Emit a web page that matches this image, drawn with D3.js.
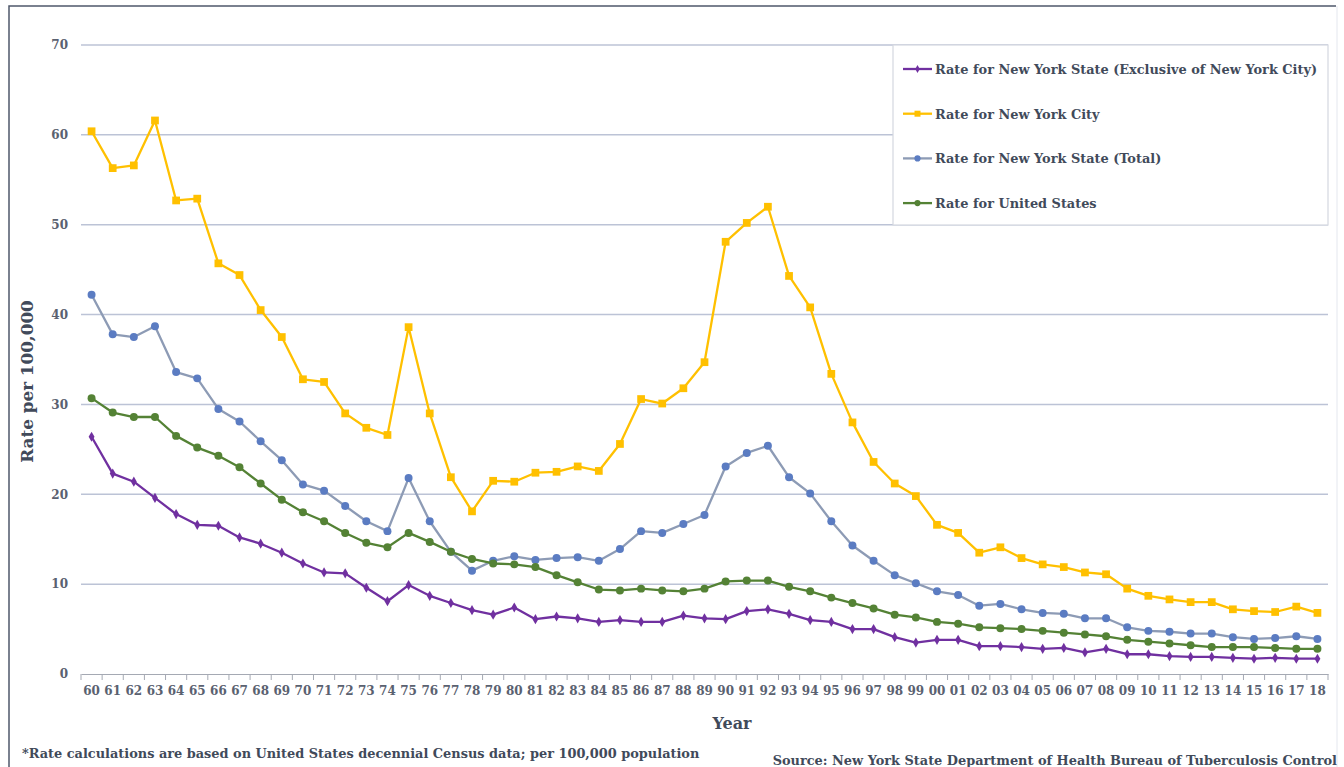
<!DOCTYPE html>
<html>
<head>
<meta charset="utf-8">
<script src="https://cdn.jsdelivr.net/npm/d3@7"></script>
<style>
  body { margin: 0; background: #fff; }
  svg { display: block; font-family: "DejaVu Serif", "Liberation Serif", serif; font-weight: bold; }
</style>
</head>
<body>
<svg id="chart" width="1344" height="767"></svg>
<script>
// years shown on the x axis (two digits, 1960 - 2018)
let years = ["60","61","62","63","64","65","66","67","68","69","70","71","72","73","74","75","76","77","78","79",
  "80","81","82","83","84","85","86","87","88","89","90","91","92","93","94","95","96","97","98","99",
  "00","01","02","03","04","05","06","07","08","09","10","11","12","13","14","15","16","17","18"];

let nysExclNyc = [26.4,22.3,21.4,19.6,17.8,16.6,16.5,15.2,14.5,13.5,12.3,11.3,11.2,9.6,8.1,9.9,8.7,7.9,7.1,6.6,
  7.4,6.1,6.4,6.2,5.8,6.0,5.8,5.8,6.5,6.2,6.1,7.0,7.2,6.7,6.0,5.8,5.0,5.0,4.1,3.5,
  3.8,3.8,3.1,3.1,3.0,2.8,2.9,2.4,2.8,2.2,2.2,2.0,1.9,1.9,1.8,1.7,1.8,1.7,1.7];

let nyc = [60.4,56.3,56.6,61.6,52.7,52.9,45.7,44.4,40.5,37.5,32.8,32.5,29.0,27.4,26.6,38.6,29.0,21.9,18.1,21.5,
  21.4,22.4,22.5,23.1,22.6,25.6,30.6,30.1,31.8,34.7,48.1,50.2,52.0,44.3,40.8,33.4,28.0,23.6,21.2,19.8,
  16.6,15.7,13.5,14.1,12.9,12.2,11.9,11.3,11.1,9.5,8.7,8.3,8.0,8.0,7.2,7.0,6.9,7.5,6.8];

let nysTotal = [42.2,37.8,37.5,38.7,33.6,32.9,29.5,28.1,25.9,23.8,21.1,20.4,18.7,17.0,15.9,21.8,17.0,13.6,11.5,12.6,
  13.1,12.7,12.9,13.0,12.6,13.9,15.9,15.7,16.7,17.7,23.1,24.6,25.4,21.9,20.1,17.0,14.3,12.6,11.0,10.1,
  9.2,8.8,7.6,7.8,7.2,6.8,6.7,6.2,6.2,5.2,4.8,4.7,4.5,4.5,4.1,3.9,4.0,4.2,3.9];

let unitedStates = [30.7,29.1,28.6,28.6,26.5,25.2,24.3,23.0,21.2,19.4,18.0,17.0,15.7,14.6,14.1,15.7,14.7,13.6,12.8,12.3,
  12.2,11.9,11.0,10.2,9.4,9.3,9.5,9.3,9.2,9.5,10.3,10.4,10.4,9.7,9.2,8.5,7.9,7.3,6.6,6.3,
  5.8,5.6,5.2,5.1,5.0,4.8,4.6,4.4,4.2,3.8,3.6,3.4,3.2,3.0,3.0,3.0,2.9,2.8,2.8];

let yTicks = [0, 10, 20, 30, 40, 50, 60, 70];

let seriesNames = [
  "Rate for New York State (Exclusive of New York City)",
  "Rate for New York City",
  "Rate for New York State (Total)",
  "Rate for United States"
];

let series = [
  { name: seriesNames[0], values: nysExclNyc, line: "#7030a0", fill: "#7030a0", shape: d3.symbolDiamond, size: 30 },
  { name: seriesNames[1], values: nyc, line: "#ffc000", fill: "#ffc000", shape: d3.symbolSquare, size: 60 },
  { name: seriesNames[2], values: nysTotal, line: "#8d9bb5", fill: "#5b7cc2", shape: d3.symbolCircle, size: 50 },
  { name: seriesNames[3], values: unitedStates, line: "#548235", fill: "#548235", shape: d3.symbolCircle, size: 50 }
];

let textColor = "#414a5a";
let svg = d3.select("#chart");

let plotLeft = 81, plotRight = 1328, plotTop = 45, plotBottom = 674;

let x = d3.scaleBand().domain(years).range([plotLeft, plotRight]);
let y = d3.scaleLinear().domain([0, 70]).range([plotBottom, plotTop]);

// outer frame
svg.append("path")
  .attr("d", `M9,767 L9,6 L1336,6`)
  .attr("fill", "none")
  .attr("stroke", "#4f586b")
  .attr("stroke-width", 1.5);
svg.append("line")
  .attr("x1", 1337).attr("y1", 6).attr("x2", 1337).attr("y2", 767)
  .attr("stroke", "#e4e7ee").attr("stroke-width", 1);

// gridlines
svg.append("g")
  .selectAll("line")
  .data(yTicks.filter(d => d > 0))
  .enter()
  .append("line")
  .attr("x1", plotLeft)
  .attr("x2", plotRight)
  .attr("y1", d => y(d))
  .attr("y2", d => y(d))
  .attr("stroke", "#bcc3d6")
  .attr("stroke-width", 1.5);

// y axis labels
let yAxis = svg.append("g")
  .attr("transform", `translate(${plotLeft},0)`)
  .call(d3.axisLeft(y).tickValues(yTicks).tickSize(0).tickPadding(13));
yAxis.select(".domain").remove();
yAxis.selectAll("text")
  .attr("font-family", "DejaVu Serif")
  .attr("font-size", 12)
  .attr("fill", "#5a6170");

// x axis with ticks between categories
let xAxis = svg.append("g")
  .attr("transform", `translate(0,${plotBottom})`)
  .call(d3.axisBottom(x).tickSize(0).tickPadding(12));
xAxis.select(".domain").attr("stroke", "#a5a9b3").attr("stroke-width", 1.2);
xAxis.selectAll("text")
  .attr("font-family", "DejaVu Serif")
  .attr("font-size", 12)
  .attr("fill", "#5a6170");
xAxis.append("g")
  .selectAll("line")
  .data(years.map(d => x(d)).concat([plotRight]))
  .enter()
  .append("line")
  .attr("x1", d => d)
  .attr("x2", d => d)
  .attr("y1", 0)
  .attr("y2", 6)
  .attr("stroke", "#a5a9b3");

// axis titles
svg.append("text")
  .attr("x", 732)
  .attr("y", 729)
  .attr("text-anchor", "middle")
  .attr("font-size", 16)
  .attr("fill", textColor)
  .text("Year");

svg.append("text")
  .attr("transform", `translate(33,${(plotTop + plotBottom) / 2 + 22}) rotate(-90)`)
  .attr("text-anchor", "middle")
  .attr("font-size", 16.8)
  .attr("fill", textColor)
  .text("Rate per 100,000");

// lines and markers
let line = d3.line()
  .x((d, i) => x(years[i]) + x.bandwidth() / 2)
  .y(d => y(d));

for (const s of series) {
  let g = svg.append("g");
  g.append("path")
    .attr("d", line(s.values))
    .attr("fill", "none")
    .attr("stroke", s.line)
    .attr("stroke-width", 2.3)
    .attr("stroke-linejoin", "round");
  g.selectAll("path.marker")
    .data(s.values)
    .enter()
    .append("path")
    .attr("class", "marker")
    .attr("d", d3.symbol().type(s.shape).size(s.size))
    .attr("transform", (d, i) => `translate(${x(years[i]) + x.bandwidth() / 2},${y(d)})`)
    .attr("fill", s.fill);
}

// legend
let legend = svg.append("g");
legend.append("rect")
  .attr("x", 893)
  .attr("y", 45)
  .attr("width", 435)
  .attr("height", 180)
  .attr("fill", "#fff")
  .attr("stroke", "#d4d8e0")
  .attr("stroke-width", 1.2);

let items = legend.selectAll("g.item")
  .data(series)
  .enter()
  .append("g")
  .attr("class", "item")
  .attr("transform", (d, i) => `translate(903,${69 + i * 44.7})`);
items.append("line")
  .attr("x1", 0).attr("x2", 29)
  .attr("stroke", d => d.line)
  .attr("stroke-width", 2.3);
items.append("path")
  .attr("d", d => d3.symbol().type(d.shape).size(d.size * 0.6)())
  .attr("transform", "translate(14.5,0)")
  .attr("fill", d => d.fill);
items.append("text")
  .attr("x", 32)
  .attr("y", 5)
  .attr("font-size", 12.9)
  .attr("fill", textColor)
  .text(d => d.name);

// notes
svg.append("text")
  .attr("x", 22)
  .attr("y", 758)
  .attr("font-size", 12.9)
  .attr("fill", textColor)
  .text("*Rate calculations are based on United States decennial Census data; per 100,000 population");

svg.append("text")
  .attr("x", 1337)
  .attr("y", 765)
  .attr("text-anchor", "end")
  .attr("font-size", 12.9)
  .attr("fill", textColor)
  .text("Source: New York State Department of Health Bureau of Tuberculosis Control");
</script>
</body>
</html>
